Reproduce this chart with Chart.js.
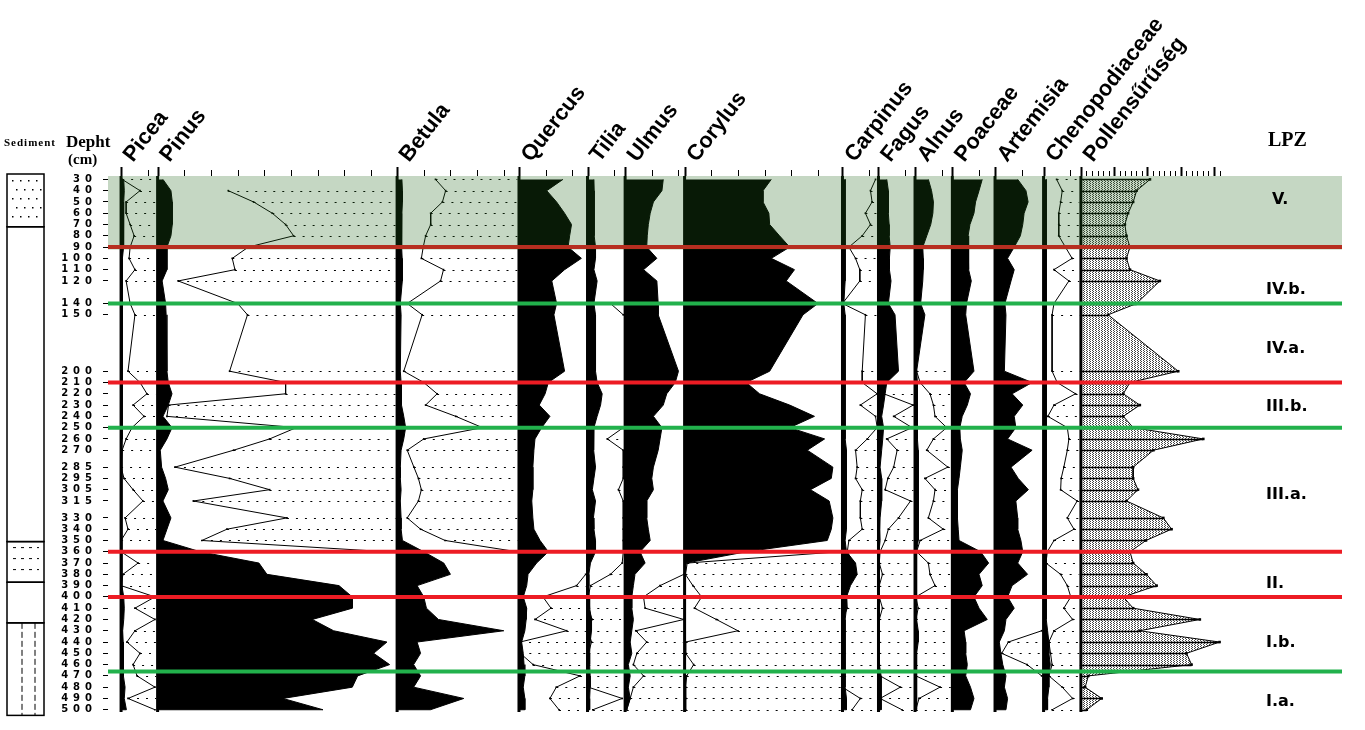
<!DOCTYPE html>
<html>
<head>
<meta charset="utf-8">
<script src="https://cdn.jsdelivr.net/npm/chart.js@4.4.0/dist/chart.umd.min.js"></script>
<style>
  html, body { margin: 0; padding: 0; background: #fff; }
  canvas { display: block; }
</style>
</head>
<body>
<canvas id="diagram" width="1365" height="730"></canvas>
<script>
const _ = null;

// sample depths (cm)
const depths = [30, 40, 50, 60, 70, 80, 90, 100, 110, 120, 140, 150, 200, 210, 220, 230, 240, 250, 260, 270, 285, 295, 305, 315, 330, 340, 350, 360, 370, 380, 390, 400, 410, 420, 430, 440, 450, 460, 470, 480, 490, 500];

// pollen percentages (black curves) and x10 exaggeration curves
const picea = [1.0, 1.2, 1.0, 1.0, 1.0, 1.0, 0.8, 0.5, 0.5, 0.4, 0.4, 0.4, 0.4, 0.4, 0.5, 0.4, 0.4, 0.4, 0.4, 0.3, 0.3, 0.3, 0.3, 0.3, 0.3, 0.3, 0.3, 0.3, 0.3, 0.3, 0.3, 1.0, 1.2, 1.0, 0.6, 0.8, 0.8, 0.8, 1.0, 1.5, 1.2, 2.0];
const piceaX10 = [0.4, 7.1, 1.9, 1.9, 3.4, 4.9, 3.4, 3.0, 5.2, 1.9, 3.4, 5.2, 2.6, 7.1, 9.7, 4.5, 8.6, 4.1, 1.9, 0.4, 0, 1.1, 4.5, 8.2, 1.5, 2.6, 0, 0, 6.4, 0.7, 0, 12.7, 5.2, 12.7, 5.2, 2.2, 7.1, 4.5, 6.0, 12.7, 2.6, 12.7];

const pinus = [2, 5, 5.5, 5.5, 5.5, 5, 3.5, 3.5, 3.5, 1.7, 3, 3.2, 3.5, 4, 5.4, 4, 2, 5.4, 3.5, 1, 1.5, 3, 4, 2, 5, 3.5, 2, 16, 38, 41, 68, 73, 73, 58, 66, 86, 81, 87, 75, 73, 47, 62];
const pinusX10 = [_, 26.5, 36, 43, 48, 51, 34, 28, 29, 7.7, 30, 33.7, 27, 48, 48, 4.1, 3.5, 52, 42, 28.5, 6.5, 27, 42, 13.4, 48.5, 26, 16.6, 86, _, _, _, _, _, _, _, _, _, _, _, _, _, _];

const betula = [1.8, 2, 2, 1.8, 1.8, 1.8, 1.5, 1.9, 2, 1.9, 1.2, 1.5, 1.2, 1.5, 1.5, 1.8, 2.5, 3.2, 2.5, 1.5, 1.2, 1.2, 1.5, 1.2, 1.5, 1.5, 2, 10, 17.5, 20, 7.5, 10, 11, 15.5, 40, 7.5, 8.8, 6.2, 8.8, 6.2, 25, 12.5];
const betulaX10 = [14.4, 18.2, 17, 12.6, 12.6, 10.7, 9.8, 9.1, 17.4, 16.3, 3.8, 9.4, 2.5, 10, 15, 10.7, 22, 32, 10, 3.8, 6.3, 8, 9.1, 8, 3.8, 8.8, 18, 45, _, _, _, _, _, _, _, _, _, _, _, _, _, _];

const quercus = [16.5, 10.4, 14.1, 17.1, 19.7, 19, 18.4, 23.4, 17.1, 12.3, 14.1, 13.1, 17.1, 11, 9.8, 7.6, 11.6, 8.5, 6, 5.6, 5.2, 5.2, 5.2, 4.8, 5.2, 5.6, 7.9, 11, 6.6, 3.4, 2.9, 1.6, 2.9, 2.7, 2.2, 1, 1.6, 1.9, 2.2, 1.6, 2.2, 2.2];
const quercusX10 = [_, _, _, _, _, _, _, _, _, _, _, _, _, _, _, _, _, _, _, _, _, _, _, _, _, _, _, _, _, 25, 21.6, 9, 12, 6, 17.9, 0.4, 0.5, 5.3, 22.9, 14, 11.6, 15];

const tilia = [2.4, 2.5, 2.5, 2.5, 2.5, 2.5, 3, 3, 2.4, 3.6, 2.4, 3, 3, 3.6, 5.5, 4.9, 3.6, 2.4, 2.2, 2.4, 3, 2.4, 1.8, 3, 2.2, 2.4, 3, 3, 1.1, 0.5, 0.5, 0.6, 0.8, 1.5, 1.5, 1, 0.8, 0.8, 1, 1, 0.8, 0.8];
const tiliaX10 = [_, _, _, _, _, _, _, _, _, _, 8.6, 13.4, _, _, _, _, _, 13.4, 7.4, 13.4, 13.4, 13.4, 11.6, 13.4, 13.4, 13.4, 13.4, 13.4, 13, 8.6, 1.1, 0.3, 0.3, 1.7, 0.3, 1.5, 0.3, 0.3, 0.3, 0.3, 13, 2];

const ulmus = [14.3, 13.8, 10.6, 9.4, 8.7, 8.3, 8.1, 11.9, 6.9, 11.9, 12.4, 12.4, 20, 18.8, 15.6, 14.3, 10.6, 13.8, 13.1, 12.4, 10.6, 10, 10.6, 8.1, 8.1, 8.7, 9.4, 5.6, 7.5, 3.7, 3.1, 2.5, 2.5, 3.1, 2.5, 1.9, 2.5, 1.2, 1.9, 1.2, 1.9, 0.6];
const ulmusX10 = [_, _, _, _, _, _, _, _, _, _, _, _, _, _, _, _, _, _, _, _, _, _, _, _, _, _, _, _, _, 22, 13.1, 6.9, 7.5, 22, 4, 8.1, 4.4, 3.1, 6.9, 3.1, 1.9, 0.6];

const corylus = [32.5, 29.4, 29.4, 31.6, 31.9, 35.6, 39.4, 32.5, 41.2, 38.1, 50, 44.4, 31.9, 23.1, 28.1, 39.4, 48.7, 39.4, 52.5, 46, 55.6, 55, 47.2, 54.2, 55.6, 55, 53.5, 23.1, 0.6, 0.3, 0.3, 0.3, 0.3, 0.3, 0.3, 0.3, 0.3, 0.3, 0.3, 0.3, 0.3, 0.3];
const corylusX10 = [_, _, _, _, _, _, _, _, _, _, _, _, _, _, _, _, _, _, _, _, _, _, _, _, _, _, _, 58, 1, 0.3, 3.1, 6.4, 3.7, 11.9, 20, 0.4, 0.4, 3.4, 0.8, 0.4, 0.4, 0.4];

const carpinus = [1, 1, 1, 1, 1, 1, 1, 1, 1, 1, 0.5, 1, 1, 1, 1, 1, 1, 1, 1, 1.5, 1.5, 1.5, 1.5, 1.5, 1.5, 1.5, 1, 1.5, 4.9, 5.5, 3, 1.5, 1.5, 1, 1, 1, 1, 1, 1, 1, 1.5, 1.5];
const carpinusX10 = [12.4, 10.5, 11.1, 8.6, 10.5, 7.4, 2.4, 4.9, 6.5, 6.5, 0, 8.6, 7.4, 7.4, 13, 6.7, 12.4, 13, 9.3, 4.9, 5.5, 4.9, 7.4, 6.7, 6.7, 7.4, 2.4, 1.8, 4.2, 4.9, 1.8, 1.6, 1.8, 0, 0.8, 0, 0.6, 0, 0.6, 0, 6.7, 3.6];

const fagus = [3.1, 3.7, 3.7, 3.7, 4, 4, 4.4, 4.1, 4.1, 4.7, 3.7, 6.2, 7.5, 3.1, 2.5, 1.9, 1.2, 1.9, 1.6, 1.2, 0.6, 1.2, 1.2, 1.2, 0.6, 0.5, 0.6, 0.2, 0.3, 0.3, 0.3, 0.3, 0.3, 0.3, 0.3, 0.3, 0.3, 0.3, 1, 1, 1, 1];
const fagusX10 = [_, _, _, _, _, _, _, _, _, _, _, _, _, 0.5, 2, 13, 5.7, 12.6, 3.1, 7, 5.7, 3.5, 2.5, 12, 7.5, 3.7, 2.5, 0.6, 0.3, 1.5, 0.3, 0.3, 1.5, 0.3, 0.3, 0.3, 0.3, 0.3, 0.6, 8.2, 0.6, 8.8];

const alnus = [5, 6.2, 6.9, 6.7, 5.9, 4.4, 2.9, 3.1, 3.1, 2.9, 2.1, 3.7, 0.6, 0.9, 0.9, 0.9, 0.9, 0.9, 0.9, 1.2, 1.2, 1.2, 1.2, 1.2, 1.2, 1.2, 1.2, 0.6, 0.6, 0.6, 0.6, 0.6, 0.6, 0.6, 1.2, 1.2, 0.6, 0.6, 0.6, 0.6, 0.6, 0.6];
const alnusX10 = [_, _, _, _, _, _, _, _, _, _, _, _, 0.6, 1.9, 5.6, 6.9, 7.5, 11.9, 6.9, 4.4, 12.3, 3.7, 7.5, 6.9, 5, 10.6, 1.9, 0.6, 5, 5.6, 7.5, 0.3, 1.2, 0.3, 0.3, 0.3, 0.3, 0.3, 0.3, 9.4, 1.5, 0.3];

const poaceae = [11.2, 10, 8.7, 8.1, 6.6, 5.9, 6.2, 6.2, 5.9, 7.1, 5.3, 5, 8.1, 4.4, 6.8, 5.6, 3.7, 2.8, 3, 3.7, 3, 2.5, 1.9, 1.9, 1.9, 2.2, 2.5, 10.6, 13.6, 10, 11.2, 8.1, 10, 13.1, 4.4, 5, 5, 5.6, 5, 6.8, 8.1, 6.8];

const artemisia = [8.5, 11.6, 12.4, 10.9, 10.4, 9.5, 7.2, 4.7, 7.2, 6, 3.7, 4.1, 3.5, 13.9, 6.4, 10.4, 7.2, 7.8, 4.7, 13.9, 6, 8.7, 12.5, 7.8, 8.5, 8.5, 9.7, 10.4, 8.5, 12.2, 6.4, 4.7, 7.2, 4.1, 3.5, 1.6, 2.2, 2.9, 4.1, 3.5, 4.7, 4.1];
const artemisiaX10 = [_, _, _, _, _, _, _, _, _, _, _, _, _, _, _, _, _, _, _, _, _, _, _, _, _, _, _, _, _, _, _, _, _, _, 17.5, 5, 2.5, 12, 17.5, _, _, _];

const chenopodiaceae = [1, 1, 1, 1, 1, 1, 1, 1, 1, 1, 1, 1, 1, 1, 1, 1, 1, 1, 1, 1, 1, 1, 1, 1, 1, 1, 1, 1, 1, 1, 1, 1, 1.2, 1.2, 1.5, 2, 2, 2.5, 2, 2, 1.5, 1.5];
const chenopodiaceaeX10 = [4.9, 7, 6.4, 5.7, 5.7, 5.7, 8.2, 10.7, 3.9, 9.5, 3.9, 3.2, 3.2, 5.1, 12, 3.9, 1.6, 8.9, 9.5, 8.9, 7.6, 6.6, 6.4, 12.6, 8.9, 11.4, 3.9, 1.4, 0.9, 6.4, 8.9, 10.2, 7.6, 10.9, 3.9, 2, 2.6, 3.2, 2, 7, 10.9, 3.2];

// pollen concentration (Pollensűrűség), relative units
const pollenDensity = [25.9, 20.9, 19.6, 17.7, 16.5, 17.1, 18.4, 17.1, 18.4, 29.6, 20.9, 10.2, 36.5, 18.4, 15.9, 22.1, 15.9, 19.6, 45.9, 27.2, 19.6, 19.6, 21.4, 17.1, 30.9, 34, 24.4, 18.4, 19.6, 24.6, 28.4, 15.9, 19.6, 44.6, 22, 52, 39.6, 41.5, 2.8, 1.6, 7.8, 2.2];

// local pollen zones
const zoneDepths = [90, 140, 210, 250, 360, 400, 466];
const zoneKinds = ['red', 'green', 'red', 'green', 'red', 'red', 'green'];
const zoneLabels = ['V.', 'IV.b.', 'IV.a.', 'III.b.', 'III.a.', 'II.', 'I.b.', 'I.a.'];

// layout: column starts / ends on the shared x scale (1 unit = 1 %)
const taxa = [
  { name: 'Picea', base: 4.9, end: 18.0, values: picea, line: piceaX10 },
  { name: 'Pinus', base: 18.6, end: 107.8, values: pinus, line: pinusX10 },
  { name: 'Betula', base: 108.4, end: 153.5, values: betula, line: betulaX10 },
  { name: 'Quercus', base: 154.1, end: 179.2, values: quercus, line: quercusX10 },
  { name: 'Tilia', base: 179.8, end: 193.3, values: tilia, line: tiliaX10 },
  { name: 'Ulmus', base: 193.9, end: 215.6, values: ulmus, line: ulmusX10 },
  { name: 'Corylus', base: 216.2, end: 274.8, values: corylus, line: corylusX10 },
  { name: 'Carpinus', base: 275.4, end: 288.3, values: carpinus, line: carpinusX10 },
  { name: 'Fagus', base: 288.9, end: 302.0, values: fagus, line: fagusX10 },
  { name: 'Alnus', base: 302.6, end: 316.0, values: alnus, line: alnusX10 },
  { name: 'Poaceae', base: 316.6, end: 332.0, values: poaceae, line: null },
  { name: 'Artemisia', base: 332.6, end: 350.2, values: artemisia, line: artemisiaX10 },
  { name: 'Chenopodiaceae', base: 350.8, end: 364.2, values: chenopodiaceae, line: chenopodiaceaeX10 }
];
const density = { name: 'Pollensűrűség', base: 364.8, end: 417 };
const zoneLabelDepths = [48, 128, 180, 232, 310, 388, 441, 493];
const sedimentLayers = [
  { to: 72, kind: 'dots' }, { to: 351, kind: 'plain' }, { to: 387, kind: 'dashes' },
  { to: 423, kind: 'plain' }, { to: 505, kind: 'lines' }
];

function polygon(base, values) {
  const pts = values.map((v, i) => ({ x: base + v, y: depths[i] }));
  pts.push({ x: base, y: depths[depths.length - 1] }, { x: base, y: depths[0] });
  return pts;
}

// split a curve into unbroken runs (nulls = no curve drawn)
function runs(base, values) {
  const out = [];
  let cur = [];
  values.forEach((v, i) => {
    if (v === null) {
      if (cur.length) out.push(cur);
      cur = [];
    } else {
      cur.push({ x: base + v, y: depths[i] });
    }
  });
  if (cur.length) out.push(cur);
  return out;
}

function stipple() {
  const c = document.createElement('canvas');
  c.width = 3; c.height = 2;
  const g = c.getContext('2d');
  g.fillStyle = '#fff'; g.fillRect(0, 0, 3, 2);
  g.fillStyle = '#444'; g.fillRect(0, 0, 1, 1); g.fillRect(1, 1, 1, 1);
  return g.createPattern(c, 'repeat');
}

const curveStyle = {
  showLine: true, fill: false, borderColor: '#000', borderWidth: 1,
  pointRadius: 1.2, pointStyle: 'rect', pointBackgroundColor: '#000', pointBorderWidth: 0,
  indexAxis: 'y', order: 1
};

const datasets = [];
taxa.forEach(t => {
  datasets.push({
    data: polygon(t.base, t.values), showLine: true, fill: 'shape', indexAxis: 'y',
    backgroundColor: '#000', borderColor: '#000', borderWidth: 1, pointRadius: 0, order: 2
  });
  if (t.line) runs(t.base, t.line).forEach(r => datasets.push({ ...curveStyle, data: r }));
});
datasets.push({
  data: polygon(density.base, pollenDensity), showLine: true, fill: 'shape', indexAxis: 'y',
  backgroundColor: stipple(), borderColor: 'rgba(0,0,0,0)', borderWidth: 0, pointRadius: 0, order: 2
});
runs(density.base, pollenDensity).forEach(r => datasets.push({ ...curveStyle, data: r, pointRadius: 1.8 }));

const decor = {
  id: 'decor',
  beforeDraw(chart) {
    chart.ctx.letterSpacing = '5px';
  },
  beforeDatasetsDraw(chart) {
    const { ctx, scales: { x, y } } = chart;
    ctx.letterSpacing = '0px';
    ctx.save();
    // dotted sample levels to the right of the exaggeration curves
    ctx.strokeStyle = '#000';
    ctx.lineWidth = 1;
    ctx.setLineDash([2, 7]);
    taxa.forEach(t => {
      if (!t.line) return;
      const right = x.getPixelForValue(t.end);
      t.line.forEach((v, i) => {
        if (v === null) return;
        const py = Math.round(y.getPixelForValue(depths[i])) + 0.5;
        const left = x.getPixelForValue(t.base + v);
        if (left >= right - 2) return;
        ctx.beginPath(); ctx.moveTo(left, py); ctx.lineTo(right, py); ctx.stroke();
      });
    });
    ctx.restore();
  },
  afterDatasetsDraw(chart) {
    const { ctx, chartArea: area, scales: { x, y } } = chart;
    ctx.save();
    ctx.letterSpacing = '0px';

    // density sample bars
    ctx.strokeStyle = '#000';
    ctx.lineWidth = 1.5;
    pollenDensity.forEach((v, i) => {
      const py = Math.round(y.getPixelForValue(depths[i])) + 0.5;
      ctx.beginPath();
      ctx.moveTo(x.getPixelForValue(density.base), py);
      ctx.lineTo(x.getPixelForValue(density.base + v), py);
      ctx.stroke();
    });

    // zero lines of each column
    ctx.lineWidth = 3;
    taxa.concat([density]).forEach(t => {
      const px = x.getPixelForValue(t.base);
      ctx.beginPath(); ctx.moveTo(px, area.top); ctx.lineTo(px, area.bottom); ctx.stroke();
    });

    // zone boundaries
    ctx.lineWidth = 4;
    zoneDepths.forEach((d, i) => {
      const py = y.getPixelForValue(d);
      ctx.strokeStyle = zoneKinds[i] === 'red' ? 'rgb(237,28,36)' : 'rgb(34,177,76)';
      ctx.beginPath(); ctx.moveTo(area.left, py); ctx.lineTo(area.right, py); ctx.stroke();
    });

    // shading of the uppermost zone
    const zTop = area.top;
    const zBottom = y.getPixelForValue(zoneDepths[0]) + 2.5;
    ctx.fillStyle = 'rgba(31,100,23,0.26)';
    ctx.fillRect(area.left, zTop, area.right - area.left, zBottom - zTop);

    // zone labels
    ctx.fillStyle = '#000';
    ctx.font = 'bold 16px "DejaVu Sans"';
    ctx.textAlign = 'left';
    ctx.textBaseline = 'middle';
    zoneLabels.forEach((lab, i) => {
      ctx.fillText(lab, lab === 'V.' ? 1272 : 1266, y.getPixelForValue(zoneLabelDepths[i]));
    });

    // scale ticks on top of each column
    ctx.strokeStyle = '#000';
    ctx.lineWidth = 1;
    taxa.forEach(t => {
      for (let v = 0; t.base + v <= t.end + 0.5; v += 10) {
        const px = Math.round(x.getPixelForValue(t.base + v)) + 0.5;
        ctx.lineWidth = v === 0 ? 2 : 1;
        ctx.beginPath(); ctx.moveTo(px, v === 0 ? area.top - 9 : area.top - 6); ctx.lineTo(px, area.top); ctx.stroke();
      }
    });
    for (let k = 0; density.base + k * 2.08 <= density.end; k++) {
      const px = Math.round(x.getPixelForValue(density.base + k * 2.08)) + 0.5;
      ctx.lineWidth = k % 6 === 0 ? 2 : 1;
      ctx.beginPath(); ctx.moveTo(px, k % 6 === 0 ? area.top - 9 : area.top - 5); ctx.lineTo(px, area.top); ctx.stroke();
    }

    // taxon names
    ctx.font = 'bold 22px "Liberation Sans"';
    ctx.textBaseline = 'alphabetic';
    taxa.concat([density]).forEach(t => {
      ctx.save();
      ctx.translate(x.getPixelForValue(t.base) + 12, area.top - 13);
      ctx.rotate(-52 * Math.PI / 180);
      ctx.fillText(t.name, 0, 0);
      ctx.restore();
    });

    // headings
    ctx.font = 'bold 20px "Liberation Serif"';
    ctx.fillText('LPZ', 1268, 146);
    ctx.font = 'bold 17px "Liberation Serif"';
    ctx.fillText('Depht', 66, 147);
    ctx.font = 'bold 15px "Liberation Serif"';
    ctx.fillText('(cm)', 68, 164);
    ctx.font = 'bold 11px "Liberation Serif"';
    ctx.letterSpacing = '1px';
    ctx.fillText('Sediment', 4, 146);
    ctx.letterSpacing = '0px';

    // sediment log
    const sx = 7, sw = 37;
    let prev = y.getPixelForValue(27) - 2;
    ctx.lineWidth = 1.5;
    ctx.strokeStyle = '#000';
    sedimentLayers.forEach(layer => {
      const bottom = y.getPixelForValue(layer.to);
      ctx.strokeRect(sx, prev, sw, bottom - prev);
      ctx.save();
      ctx.lineWidth = 1;
      if (layer.kind === 'dots') {
        for (let py = prev + 6; py < bottom - 3; py += 9) {
          for (let px = sx + 5 + (py % 2) * 4; px < sx + sw - 3; px += 8) ctx.fillRect(px, py, 1.5, 1.5);
        }
      } else if (layer.kind === 'dashes') {
        ctx.setLineDash([3, 5]);
        for (let py = prev + 6; py < bottom - 3; py += 11) {
          ctx.beginPath(); ctx.moveTo(sx + 6, py); ctx.lineTo(sx + sw - 5, py); ctx.stroke();
        }
      } else if (layer.kind === 'lines') {
        ctx.setLineDash([6, 3]);
        [sx + 15, sx + 28].forEach(px => {
          ctx.beginPath(); ctx.moveTo(px, prev); ctx.lineTo(px, bottom); ctx.stroke();
        });
      }
      ctx.restore();
      prev = bottom;
    });
    ctx.restore();
  }
};

new Chart(document.getElementById('diagram').getContext('2d'), {
  type: 'scatter',
  data: { datasets },
  options: {
    responsive: false,
    animation: false,
    events: [],
    indexAxis: 'y',
    layout: { padding: { left: 0, top: 176, right: 23, bottom: 18 } },
    plugins: { legend: { display: false }, tooltip: { enabled: false } },
    scales: {
      x: { type: 'linear', min: 0, max: 462.7, display: false },
      y: {
        type: 'linear', reverse: true, min: 27, max: 502,
        afterBuildTicks: axis => { axis.ticks = depths.map(v => ({ value: v })); },
        afterFit: axis => { axis.width = 108; },
        grid: { drawOnChartArea: false, drawTicks: true, tickLength: 5, color: '#000', lineWidth: 1 },
        border: { display: false },
        ticks: {
          autoSkip: false, padding: 6, color: '#000',
          font: { family: 'DejaVu Sans', size: 10, weight: 'bold' }
        }
      }
    }
  },
  plugins: [decor]
});
</script>
</body>
</html>
